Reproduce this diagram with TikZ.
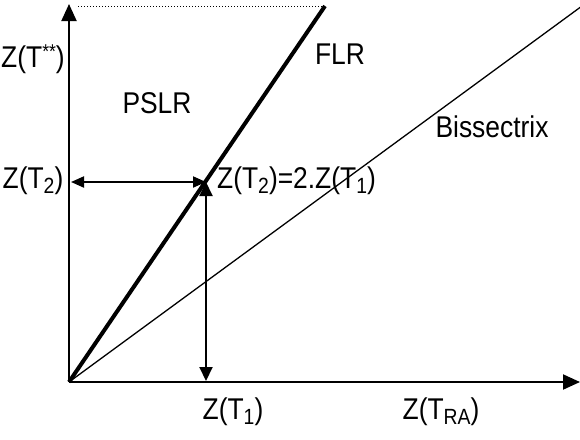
\documentclass[tikz,border=0pt]{standalone}
\usepackage{fontspec}
\setmainfont{Liberation Sans}[FakeStretch=0.88]
\usetikzlibrary{arrows.meta}
% lowered and raised index text for the axis labels
\newcommand\lowidx[1]{\raisebox{-4.5pt}{\fontsize{22}{24}\selectfont #1}}
\newcommand\highidx[1]{\raisebox{9pt}{\fontsize{20}{22}\selectfont #1}}
\begin{document}
\begin{tikzpicture}[x=1pt,y=-1pt,
  lbl/.style={inner sep=0pt,font=\fontsize{30}{34}\selectfont},
  axis/.style={line width=2pt,-{Triangle[length=17pt,width=15pt]}},
  guide/.style={line width=2pt,{Triangle[length=13pt,width=11pt]}-{Triangle[length=13pt,width=11pt]}},
  vguide/.style={line width=2pt,{Triangle[length=14pt,width=13pt]}-{Triangle[length=14pt,width=13pt]}}]
\useasboundingbox (0,0) rectangle (580,439);
% axes
\coordinate (O) at (69,382);
\coordinate (ytop) at (69,4);
\coordinate (xend) at (580,382);
\draw[axis] (O) -- (ytop);
\draw[axis] (O) -- (xend);
% dotted cap line and the two rays
\coordinate (cap) at (325,6);
\coordinate (capL) at (78,6);
\coordinate (bis) at (582,6);
\draw[dotted,line width=1pt] (capL) -- (cap);
\draw[line width=4pt] (O) -- (cap);
\draw[line width=1.3pt] (O) -- (bis);
% reference point and guides
\coordinate (P) at (206,182);
\coordinate (yT2) at (71,182);
\coordinate (xT1) at (206,381);
\draw[guide] (yT2) -- (P);
\draw[vguide] (P) -- (xT1);
% labels
\node[lbl] (lTss) at (33,59) {Z(T\highidx{**})};
\node[lbl] (lPSLR) at (157,103) {PSLR};
\node[lbl] (lFLR) at (340,54) {FLR};
\node[lbl] (lBis) at (492,127) {Bissectrix};
\node[lbl] (lT2) at (33,181) {Z(T\lowidx{2})};
\node[lbl,anchor=west] (lEq) at (217,181) {Z(T\lowidx{2})=2.Z(T\lowidx{1})};
\node[lbl] (lT1) at (233,412) {Z(T\lowidx{1})};
\node[lbl] (lTRA) at (441,412) {Z(T\lowidx{RA})};
\end{tikzpicture}
\end{document}
